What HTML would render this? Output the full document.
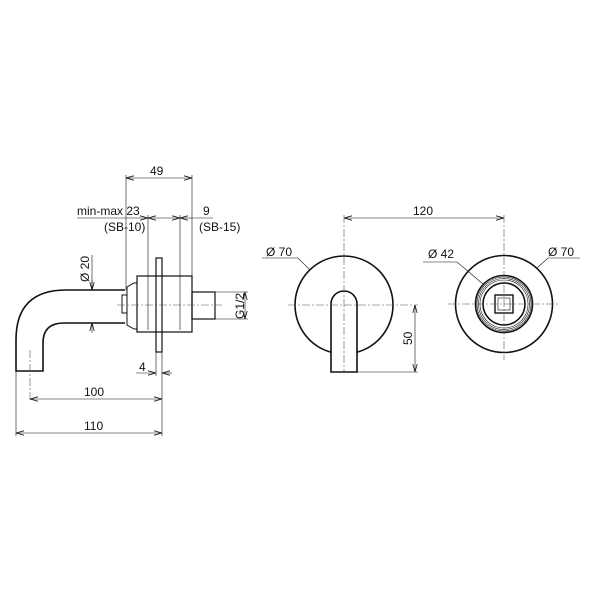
<!DOCTYPE html>
<html><head><style>body{margin:0;background:#fff}svg{display:block}text{font-family:"Liberation Sans",sans-serif;font-size:12px;fill:#111}</style></head><body>
<svg width="600" height="600" viewBox="0 0 600 600" xmlns="http://www.w3.org/2000/svg">
<defs><marker id="a" markerWidth="8" markerHeight="6" refX="8" refY="3" orient="auto-start-reverse" markerUnits="userSpaceOnUse"><path d="M0,0.8 L8,3 L0,5.2" fill="none" stroke="#111" stroke-width="0.8"/></marker></defs>
<g fill="none" stroke="#111" stroke-width="1.6">
<path d="M125,290 H66 Q16,290 16,340 V371 H43 V343 Q43,323 64,323 H125"/>
<rect x="122" y="295" width="5" height="18" stroke-width="1"/>
<path d="M127,287 L134,283 H137 V329 H134 L127,325 Z" stroke-width="1"/>
<rect x="137" y="276" width="55" height="56" stroke-width="1.2"/>
<rect x="156" y="258" width="6" height="94" stroke-width="1.2"/>
<rect x="192" y="292" width="23" height="27" stroke-width="1.2"/>
<circle cx="344" cy="305" r="49"/>
<path d="M331,372 V304 A13,13 0 0 1 357,304 V372 Z" fill="#fff"/>
<circle cx="504" cy="304" r="48.5"/>
<circle cx="504" cy="304" r="28.5"/>
<circle cx="504" cy="304" r="21"/>
<rect x="495" y="295" width="18" height="18" stroke-width="1.4"/>
</g>
<g fill="none" stroke="#111" stroke-width="0.6">
<circle cx="504" cy="304" r="27"/><circle cx="504" cy="304" r="25.5"/><circle cx="504" cy="304" r="24"/>
<rect x="498" y="298" width="12" height="12"/>
</g>
<g stroke="#555" stroke-width="0.6" stroke-dasharray="8,2,2,2" fill="none">
<path d="M117,305 H222"/><path d="M30,350 V400"/>
<path d="M288,305 H418"/><path d="M344,215 V372"/>
<path d="M448,304 H560"/><path d="M504,215 V360"/>
</g>
<g stroke="#111" stroke-width="0.6" fill="none">
<path d="M126,175 V290 M192,175 V276 M148,215 V330 M180,215 V330"/>
<path d="M126,178 H192" marker-start="url(#a)" marker-end="url(#a)"/>
<path d="M77,218 H148" marker-end="url(#a)"/>
<path d="M148,218 H180" marker-start="url(#a)" marker-end="url(#a)"/>
<path d="M180,218 H192" marker-start="url(#a)"/><path d="M192,218 H213"/>
<path d="M92,255 V290 M92,323 V326"/>
<path d="M92,280 V290" marker-end="url(#a)"/><path d="M92,323 V333" marker-start="url(#a)"/>
<path d="M215,292 H248 M215,319 H248"/>
<path d="M245,292 V319" marker-start="url(#a)" marker-end="url(#a)"/>
<path d="M156,352 V376"/>
<path d="M162,352 V436 M16,371 V436"/>
<path d="M136,373 H156" marker-end="url(#a)"/><path d="M162,373 H172" marker-start="url(#a)"/>
<path d="M30,399 H162" marker-start="url(#a)" marker-end="url(#a)"/>
<path d="M16,433 H162" marker-start="url(#a)" marker-end="url(#a)"/>
<path d="M344,218 H504" marker-start="url(#a)" marker-end="url(#a)"/>
<path d="M357,372 H418"/>
<path d="M415,305 V372" marker-start="url(#a)" marker-end="url(#a)"/>
<path d="M262,258 H298 L310,270"/>
<path d="M423,262 H457 L483,284"/>
<path d="M580,258 H548 L537,268"/>
</g>
<text x="150" y="175">49</text>
<text x="77" y="215">min-max 23</text>
<text x="104" y="231">(SB-10)</text>
<text x="203" y="215">9</text>
<text x="199" y="231">(SB-15)</text>
<text x="89" y="282" transform="rotate(-90 89 282)">Ø 20</text>
<text x="244" y="319" transform="rotate(-90 244 319)">G1/2</text>
<text x="139" y="371">4</text>
<text x="84" y="396">100</text>
<text x="84" y="430">110</text>
<text x="413" y="215">120</text>
<text x="412" y="345" transform="rotate(-90 412 345)">50</text>
<text x="266" y="256">Ø 70</text>
<text x="428" y="258">Ø 42</text>
<text x="548" y="256">Ø 70</text>
</svg>
</body></html>
